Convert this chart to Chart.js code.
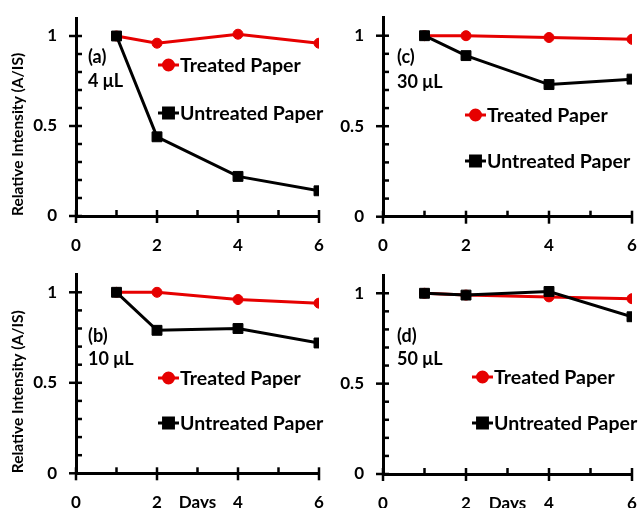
<!DOCTYPE html>
<html>
<head>
<meta charset="utf-8">
<script src="https://cdn.jsdelivr.net/npm/chart.js@4.4.0/dist/chart.umd.min.js"></script>
<style>
  html, body { margin: 0; padding: 0; background: #fff; }
  #wrap { position: relative; width: 640px; height: 508px; overflow: hidden; }
  .panel { position: absolute; }
</style>
</head>
<body>
<div id="wrap">
  <div class="panel" style="left:0;top:0"><canvas id="pa" width="328" height="254"></canvas></div>
  <div class="panel" style="left:328px;top:0"><canvas id="pc" width="312" height="254"></canvas></div>
  <div class="panel" style="left:0;top:254px"><canvas id="pb" width="328" height="254"></canvas></div>
  <div class="panel" style="left:328px;top:254px"><canvas id="pd" width="312" height="254"></canvas></div>
</div>
<script>
/* ── Données ── */
const days = [1, 2, 4, 6];
const seriesNames = ['Treated Paper', 'Untreated Paper'];

const treatedA   = [1.00, 0.96, 1.01, 0.96];
const untreatedA = [1.00, 0.44, 0.22, 0.14];
const treatedB   = [1.00, 1.00, 0.96, 0.94];
const untreatedB = [1.00, 0.79, 0.80, 0.72];
const treatedC   = [1.00, 1.00, 0.99, 0.98];
const untreatedC = [1.00, 0.89, 0.73, 0.76];
const treatedD   = [1.00, 0.99, 0.98, 0.97];
const untreatedD = [1.00, 0.99, 1.01, 0.87];

const xTickValues = [0, 2, 4, 6];
const yTickValues = [0, 0.5, 1];
const xTitle = 'Days';
const yTitle = 'Relative Intensity (A/IS)';

/* ── Style ── */
const RED = '#e60000';
const BLACK = '#000000';
const FONT = 'Lato, "Open Sans", sans-serif';

/* ── Repères des axes (graduations majeures / mineures) ── */
const tickMarks = {
  id: 'tickMarks',
  afterDraw(chart) {
    const { ctx, chartArea, scales: { x, y } } = chart;
    const x0 = chartArea.left, y0 = chartArea.bottom;
    ctx.save();
    ctx.strokeStyle = BLACK;
    ctx.lineWidth = 2.5;
    x.ticks.forEach(t => {
      const px = x.getPixelForValue(t.value);
      const major = t.value % 2 === 0;
      ctx.beginPath();
      ctx.moveTo(px, y0 - 6);
      ctx.lineTo(px, major ? y0 + 7 : y0);
      ctx.stroke();
    });
    y.ticks.forEach(t => {
      const tenth = Math.round(t.value * 10);
      if (tenth > 10) return;
      const py = y.getPixelForValue(t.value);
      const major = tenth % 5 === 0;
      ctx.beginPath();
      ctx.moveTo(major ? x0 - 7 : x0, py);
      ctx.lineTo(x0 + 6, py);
      ctx.stroke();
    });
    ctx.restore();
  }
};

/* ── Légende et annotations dans la zone du graphique ── */
const panelNotes = {
  id: 'panelNotes',
  afterDraw(chart, args, o) {
    const { ctx } = chart;
    ctx.save();
    ctx.font = 'bold 18px ' + FONT;
    ctx.fillStyle = BLACK;
    ctx.textBaseline = 'middle';
    ctx.textAlign = 'left';
    ctx.fillText(o.tag, o.tagX, o.tagY);
    ctx.fillText(o.vol, o.tagX, o.volY);

    ctx.font = 'bold 19.5px ' + FONT;
    chart.data.datasets.forEach((ds, i) => {
      const lx = o.legX, ly = o.legY[i];
      ctx.strokeStyle = ds.borderColor;
      ctx.fillStyle = ds.backgroundColor;
      ctx.lineWidth = 3;
      ctx.beginPath();
      ctx.moveTo(lx, ly);
      ctx.lineTo(lx + 21, ly);
      ctx.stroke();
      Chart.helpers.drawPoint(ctx, {
        pointStyle: ds.pointStyle, radius: ds.pointRadius, borderWidth: 1, rotation: 0
      }, lx + 10.5, ly);
      ctx.fillStyle = BLACK;
      ctx.fillText(ds.label, lx + 22, ly + 1);
    });
    ctx.restore();
  }
};

function makePanel(id, treated, untreated, o) {
  const ctx = document.getElementById(id);
  return new Chart(ctx, {
    type: 'line',
    data: {
      datasets: [
        {
          label: seriesNames[0],
          data: days.map((d, i) => ({ x: d, y: treated[i] })),
          borderColor: RED, backgroundColor: RED,
          borderWidth: 3, pointStyle: 'circle', pointRadius: 5,
          pointBorderWidth: 1, order: 2
        },
        {
          label: seriesNames[1],
          data: days.map((d, i) => ({ x: d, y: untreated[i] })),
          borderColor: BLACK, backgroundColor: BLACK,
          borderWidth: 3, pointStyle: 'rect', pointRadius: 7,
          pointBorderWidth: 1, order: 1
        }
      ]
    },
    options: {
      responsive: false,
      animation: false,
      layout: { padding: { left: 0, right: o.padRight, top: o.padTop, bottom: 0 } },
      plugins: {
        legend: { display: false },
        tooltip: { enabled: false },
        panelNotes: o.notes
      },
      scales: {
        x: {
          type: 'linear', min: 0, max: 6,
          grid: { drawOnChartArea: false, drawTicks: false },
          border: { color: BLACK, width: 3 },
          ticks: {
            stepSize: 1, autoSkip: false, maxRotation: 0, padding: 19,
            color: BLACK, font: { family: FONT, size: 17, weight: 'bold' },
            callback: v => xTickValues.includes(v) ? String(v) : (o.days && v === 3 ? xTitle : '')
          },
          afterFit: s => { s.height = o.xHeight; s.paddingLeft = 0; s.paddingRight = 0; }
        },
        y: {
          min: 0, max: 1.1,
          grid: { drawOnChartArea: false, drawTicks: false },
          border: { color: BLACK, width: 3 },
          ticks: {
            stepSize: 0.1, autoSkip: false, padding: 19,
            color: BLACK, font: { family: FONT, size: 17, weight: 'bold' },
            callback: v => {
              const hit = yTickValues.find(t => Math.abs(t - v) < 1e-6);
              return hit === undefined ? '' : String(hit);
            }
          },
          title: {
            display: o.yTitle, text: yTitle, color: BLACK, align: 'start',
            font: { family: FONT, size: 15.5, weight: 'bold' },
            padding: { top: 9, bottom: 0 }
          },
          afterFit: s => { s.width = o.yWidth; s.paddingTop = 0; s.paddingBottom = 0; }
        }
      }
    },
    plugins: [tickMarks, panelNotes]
  });
}

makePanel('pa', treatedA, untreatedA, {
  yTitle: true, days: false, yWidth: 76, padRight: 9, padTop: 18, xHeight: 38,
  notes: { tag: '(a)', vol: '4 μL', tagX: 88, tagY: 57, volY: 81, legX: 158, legY: [65, 113] }
});
makePanel('pc', treatedC, untreatedC, {
  yTitle: false, days: false, yWidth: 55, padRight: 7, padTop: 17.6, xHeight: 37.3,
  notes: { tag: '(c)', vol: '30 μL', tagX: 69, tagY: 57, volY: 82, legX: 137, legY: [115, 161] }
});
makePanel('pb', treatedB, untreatedB, {
  yTitle: true, days: true, yWidth: 76, padRight: 9, padTop: 20.2, xHeight: 34.7,
  notes: { tag: '(b)', vol: '10 μL', tagX: 88, tagY: 82, volY: 105, legX: 158, legY: [124, 169] }
});
makePanel('pd', treatedD, untreatedD, {
  yTitle: false, days: true, yWidth: 55, padRight: 6, padTop: 21.2, xHeight: 34,
  notes: { tag: '(d)', vol: '50 μL', tagX: 69, tagY: 82, volY: 105, legX: 144, legY: [123, 169] }
});
</script>
</body>
</html>
